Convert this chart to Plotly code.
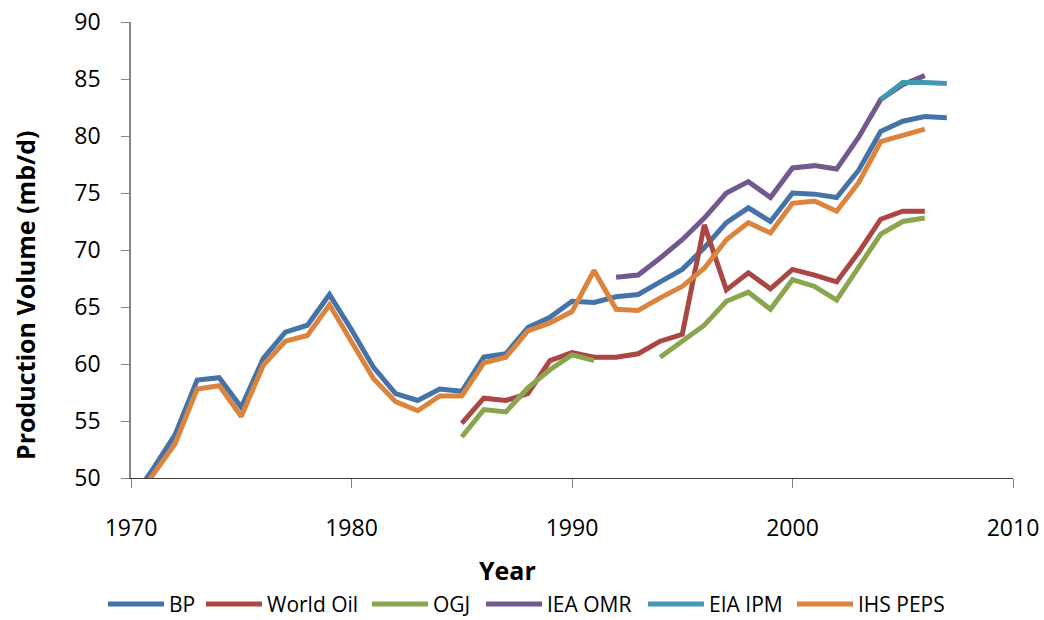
import plotly.graph_objects as go

# World oil production estimates by source (million barrels per day)
bp_years = list(range(1970, 2008))
bp_values = [48.0, 50.8, 53.8, 58.6, 58.8, 56.2, 60.5, 62.8, 63.4, 66.1,
             63.0, 59.7, 57.4, 56.8, 57.8, 57.6, 60.6, 60.9, 63.2, 64.1,
             65.5, 65.4, 65.9, 66.1, 67.2, 68.3, 70.2, 72.4, 73.7, 72.5,
             75.0, 74.9, 74.6, 77.0, 80.4, 81.3, 81.7, 81.6]

world_oil_years = list(range(1985, 2007))
world_oil_values = [54.8, 57.0, 56.8, 57.4, 60.3, 61.0, 60.6, 60.6, 60.9, 62.0,
                    62.6, 72.2, 66.5, 68.0, 66.6, 68.3, 67.8, 67.2, 69.8, 72.7,
                    73.4, 73.4]

ogj_years = list(range(1985, 2007))
ogj_values = [53.6, 56.0, 55.8, 57.9, 59.5, 60.8, 60.3, None, None, 60.6,
              62.0, 63.4, 65.5, 66.3, 64.8, 67.4, 66.8, 65.6, 68.5, 71.4,
              72.5, 72.8]

iea_years = list(range(1992, 2007))
iea_values = [67.6, 67.8, 69.3, 70.9, 72.8, 75.0, 76.0, 74.6, 77.2, 77.4,
              77.1, 79.9, 83.2, 84.5, 85.3]

eia_years = list(range(2004, 2008))
eia_values = [83.2, 84.7, 84.7, 84.6]

ihs_years = list(range(1970, 2007))
ihs_values = [47.6, 50.3, 53.0, 57.8, 58.1, 55.4, 59.9, 62.0, 62.5, 65.2,
              62.0, 58.7, 56.7, 55.9, 57.2, 57.2, 60.1, 60.6, 62.9, 63.6,
              64.6, 68.2, 64.8, 64.7, 65.8, 66.8, 68.4, 70.9, 72.4, 71.5,
              74.1, 74.3, 73.4, 75.9, 79.5, 80.1, 80.6]

series = [
    ("BP", bp_years, bp_values, "#4572A7"),
    ("World Oil", world_oil_years, world_oil_values, "#AA4643"),
    ("OGJ", ogj_years, ogj_values, "#89A54E"),
    ("IEA OMR", iea_years, iea_values, "#71588F"),
    ("EIA IPM", eia_years, eia_values, "#4198AF"),
    ("IHS PEPS", ihs_years, ihs_values, "#DB843D"),
]

FONT = "Open Sans"

# Plot-area geometry in pixels (figure is 1044 x 620)
PLOT_L, PLOT_R, PLOT_T, PLOT_B = 131, 1013, 22, 478


def px_to_paper_x(px):
    return (px - PLOT_L) / (PLOT_R - PLOT_L)


def px_to_paper_y(py):
    return (PLOT_B - py) / (PLOT_B - PLOT_T)


fig = go.Figure()
for name, xs, ys, color in series:
    fig.add_trace(go.Scatter(
        x=xs, y=ys, name=name, mode="lines",
        line=dict(color=color, width=5),
        connectgaps=False, showlegend=False,
    ))

fig.update_layout(
    width=1044, height=620,
    margin=dict(l=PLOT_L, r=1044 - PLOT_R, t=PLOT_T, b=620 - PLOT_B,
                autoexpand=False),
    paper_bgcolor="white", plot_bgcolor="white",
    font=dict(family=FONT, color="#000000"),
    showlegend=False,
)

fig.update_xaxes(
    range=[1970, 2010], tickmode="linear", tick0=1970, dtick=10,
    automargin=False,
    showgrid=False, zeroline=False,
    showline=True, linecolor="#404040", linewidth=1,
    ticks="outside", ticklen=9, tickcolor="#808080", tickwidth=1,
    tickfont=dict(family=FONT, size=23, color="#000000"),
    ticklabelstandoff=20,
)
fig.update_yaxes(
    range=[50, 90], tickmode="linear", tick0=50, dtick=5,
    automargin=False,
    showgrid=False, zeroline=False,
    showline=True, linecolor="#868686", linewidth=1.5,
    ticks="outside", ticklen=8, tickcolor="#868686", tickwidth=1,
    tickfont=dict(family=FONT, size=23, color="#000000"),
    ticklabelstandoff=16,
)

# Axis titles
fig.add_annotation(
    text="<b>Year</b>", xref="paper", yref="paper",
    x=px_to_paper_x(507), y=px_to_paper_y(570),
    xanchor="center", yanchor="middle", showarrow=False,
    font=dict(family=FONT, size=25, color="#000000"),
)
fig.add_annotation(
    text="<b>Production Volume (mb/d)</b>", xref="paper", yref="paper",
    x=px_to_paper_x(25), y=px_to_paper_y(295),
    xanchor="center", yanchor="middle", showarrow=False, textangle=-90,
    font=dict(family=FONT, size=25, color="#000000"),
)

# Legend row beneath the x-axis title: long line swatch followed by its label
legend_y = px_to_paper_y(604)
swatch_starts = [108, 206, 372, 486, 648, 797]
SWATCH_LEN = 56
for (name, _, _, color), sx in zip(series, swatch_starts):
    fig.add_shape(
        type="line", xref="paper", yref="paper",
        x0=px_to_paper_x(sx), x1=px_to_paper_x(sx + SWATCH_LEN),
        y0=legend_y, y1=legend_y,
        line=dict(color=color, width=5),
    )
    fig.add_annotation(
        text=name, xref="paper", yref="paper",
        x=px_to_paper_x(sx + SWATCH_LEN + 3), y=legend_y,
        xanchor="left", yanchor="middle", showarrow=False,
        font=dict(family=FONT, size=21, color="#000000"),
    )

fig.write_html("out.html")
